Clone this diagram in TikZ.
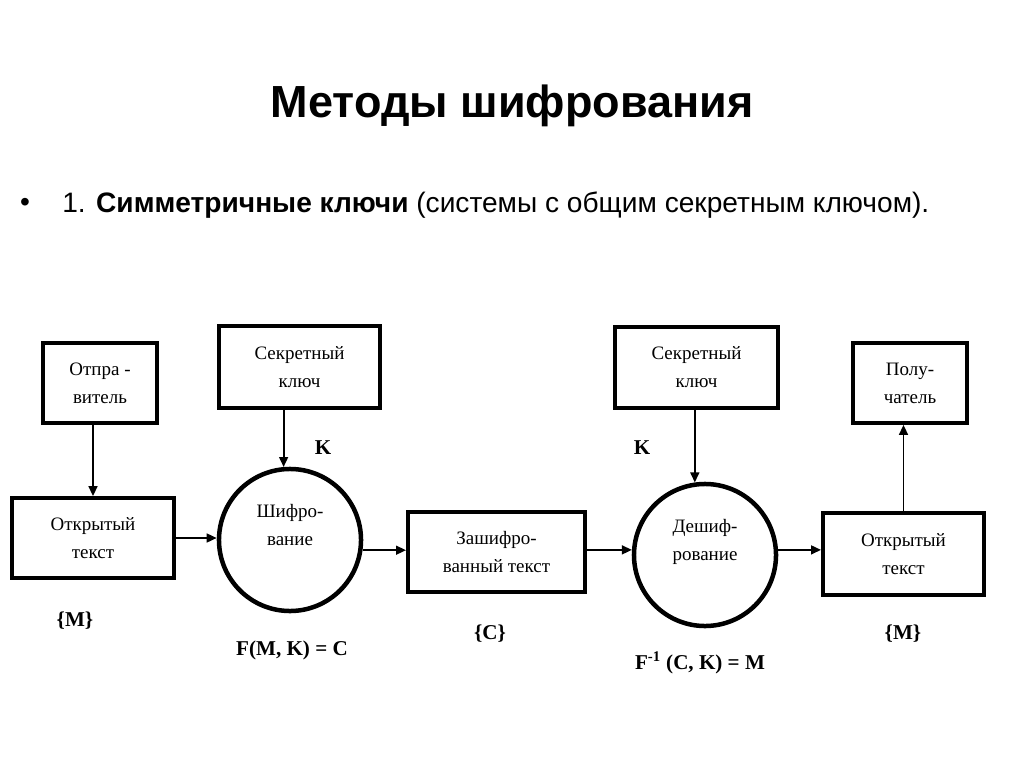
\documentclass[tikz,border=0pt]{standalone}
\usepackage{fontspec}
\setmainfont{Liberation Serif}
\newfontfamily\slidefont{Liberation Sans}
\usepackage{tikz}
\usetikzlibrary{arrows.meta}
\usetikzlibrary{positioning}
\tikzset{box/.style = {draw, line width = 2.6pt, minimum height = 2cm,
                       align = center, inner sep = 0,
                       font = \fontsize{13.5pt}{19.8pt}\selectfont}}
\tikzset{proc/.style = {draw, circle, line width = 3.2pt, minimum size = 3.55cm,
                        align = center, inner sep = 0,
                        font = \fontsize{13.5pt}{19.8pt}\selectfont}}
\tikzset{flow/.style = {line width = 1.4pt, -{Triangle[length = 2.5mm, width = 2.2mm]}}}
\tikzset{lbl/.style = {font = \fontsize{15pt}{17pt}\selectfont\bfseries}}

\begin{document}
\begin{tikzpicture}[x = 0.025cm, y = -0.025cm]
        \useasboundingbox (0, 0) rectangle (1024, 768);
        \node (title) at (512, 106) {\slidefont\fontsize{32pt}{36pt}\selectfont\bfseries Методы шифрования};
        \node (dot) at (25, 205) {\slidefont\fontsize{20pt}{24pt}\selectfont •};
        \node (item) at (62, 205) [anchor = west, inner sep = 0]
              {\slidefont\fontsize{20pt}{24pt}\selectfont 1. \textbf{Симметричные ключи} (системы с общим секретным ключом).};
        \node (sender) at (100, 383) [box, minimum width = 2.85cm] {Отпра -\\ витель};
        \node (keyL) at (299.5, 367) [box, minimum width = 4.03cm, minimum height = 2.05cm] {Секретный\\ ключ};
        \node (keyR) at (696.5, 367.5) [box, minimum width = 4.08cm, minimum height = 2.03cm] {Секретный\\ ключ};
        \node (recv) at (910, 383) [box, minimum width = 2.85cm] {Полу-\\ чатель};
        \node (plainL) at (93, 538) [box, minimum width = 4.05cm] {Открытый\\ текст};
        \node (encC) at (290, 540) [proc] {Шифро-\\ вание\\[2pt]};
        \node (cipher) at (496.5, 552) [box, minimum width = 4.43cm] {Зашифро-\\ ванный текст};
        \node (decC) at (705, 555) [proc] {Дешиф-\\ рование\\[2pt]};
        \node (plainR) at (903.5, 554) [box, minimum width = 4.03cm, minimum height = 2.05cm] {Открытый\\ текст};
        \draw [flow] (sender.south -| plainL.north) -- (plainL.north);
        \draw [flow] (keyL.south -| encC.95) -- (encC.95);
        \draw [flow] (keyR.south -| decC.98) -- (decC.98);
        \draw [flow] (plainL.east) -- (plainL.east -| encC.west);
        \draw [flow] (encC.-8) -- (encC.-8 -| cipher.west);
        \draw [flow] (decC.176 -| cipher.east) -- (decC.176);
        \draw [flow] (decC.4) -- (decC.4 -| plainR.west);
        \draw [flow] (plainR.north) -- (plainR.north |- recv.south);
        \node (kL) at (323, 448) [lbl] {K};
        \node (kR) at (642, 448) [lbl] {K};
        \node (setM) at (75, 621) [lbl] {\{M\}};
        \node (encF) at (292, 650) [lbl] {F(M, K) = C};
        \node (setC) at (490, 634) [lbl] {\{C\}};
        \node (decF) at (700, 663) [lbl] {F\textsuperscript{-1} (C, K) = M};
        \node (setM2) at (903, 634) [lbl] {\{M\}};
      \end{tikzpicture}
\end{document}
